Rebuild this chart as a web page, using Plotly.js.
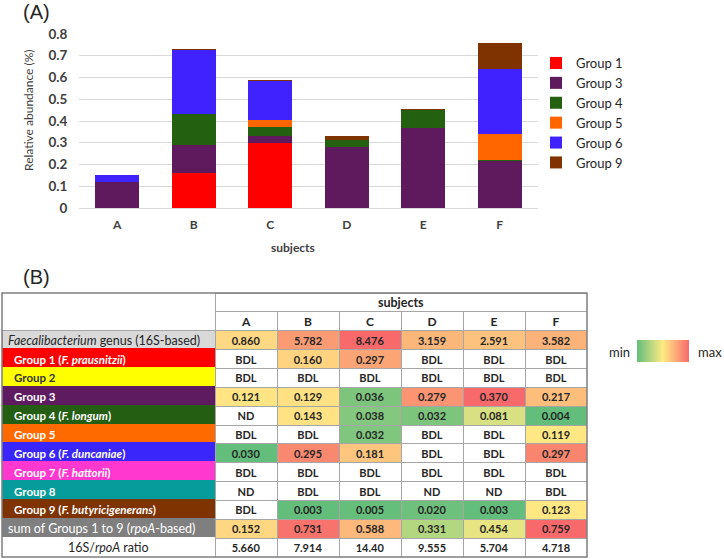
<!DOCTYPE html>
<html>
<head>
<meta charset="utf-8">
<script src="https://cdn.plot.ly/plotly-3.0.1.min.js"></script>
<style>html,body{margin:0;padding:0;background:#fff;}#chart{width:724px;height:559px;}</style>
</head>
<body>
<div id="chart"></div>
<script>
// ---------- DATA ----------
const subjects = ['A', 'B', 'C', 'D', 'E', 'F'];

const rowLabels = [
  '<i>Faecalibacterium</i> genus (16S-based)',
  '<b>Group 1 (<i>F. prausnitzii</i>)</b>',
  '<b>Group 2</b>',
  '<b>Group 3</b>',
  '<b>Group 4 (<i>F. longum</i>)</b>',
  '<b>Group 5</b>',
  '<b>Group 6 (<i>F. duncaniae</i>)</b>',
  '<b>Group 7 (<i>F. hattorii</i>)</b>',
  '<b>Group 8</b>',
  '<b>Group 9 (<i>F. butyricigenerans</i>)</b>',
  'sum of Groups 1 to 9 (<i>rpoA</i>-based)',
  '16S/<i>rpoA</i> ratio'
];

const faecalibacterium = ['0.860', '5.782', '8.476', '3.159', '2.591', '3.582'];
const group1 = ['BDL', '0.160', '0.297', 'BDL', 'BDL', 'BDL'];
const group2 = ['BDL', 'BDL', 'BDL', 'BDL', 'BDL', 'BDL'];
const group3 = ['0.121', '0.129', '0.036', '0.279', '0.370', '0.217'];
const group4 = ['ND', '0.143', '0.038', '0.032', '0.081', '0.004'];
const group5 = ['BDL', 'BDL', '0.032', 'BDL', 'BDL', '0.119'];
const group6 = ['0.030', '0.295', '0.181', 'BDL', 'BDL', '0.297'];
const group7 = ['BDL', 'BDL', 'BDL', 'BDL', 'BDL', 'BDL'];
const group8 = ['ND', 'BDL', 'BDL', 'ND', 'ND', 'BDL'];
const group9 = ['BDL', '0.003', '0.005', '0.020', '0.003', '0.123'];
const groupSum = ['0.152', '0.731', '0.588', '0.331', '0.454', '0.759'];
const ratio16SrpoA = ['5.660', '7.914', '14.40', '9.555', '5.704', '4.718'];

const barGroupNames = ['Group 1', 'Group 3', 'Group 4', 'Group 5', 'Group 6', 'Group 9'];
const barGroupValues = [group1, group3, group4, group5, group6, group9];

// ---------- STYLES ----------
const barColors = ['#FF0000', '#5E1A5C', '#23600F', '#FF6600', '#3F22FF', '#7F3300'];
const labelFills = ['#D9D9D9', '#FF0000', '#FFFF00', '#5F1B5F', '#235E12', '#FF6A00',
                    '#3A26FA', '#FF38CF', '#079C9C', '#7F3300', '#7F7F7F', '#FFFFFF'];
const labelFontColors = ['#262626', '#FFFFFF', '#333333', '#FFFFFF', '#FFFFFF', '#FFFFFF',
                         '#FFFFFF', '#FFFFFF', '#FFFFFF', '#FFFFFF', '#FFFFFF', '#262626'];
const labelFontSizes = [12.5, 11.5, 11.5, 11.5, 11.5, 11.5, 11.5, 11.5, 11.5, 11.5, 12.5, 12.5];
const labelIndent = [4, 10, 10, 10, 10, 10, 10, 10, 10, 10, 4, null]; // null = centred
const W0 = '#FFFFFF';
const cellFills = [
  ['#FFD883', '#FA9B73', '#F8696B', '#FBB67A', '#FDC27D', '#FBB379'],
  [W0, '#FFD380', '#FBA576', W0, W0, W0],
  [W0, W0, W0, W0, W0, W0],
  ['#FFE484', '#FFE083', '#7DC57D', '#FA9473', '#F8696B', '#FDBE7C'],
  [W0, '#FFE284', '#84C77E', '#7DC57D', '#D7E082', '#63BE7B'],
  [W0, W0, '#80C67E', W0, W0, '#FFE884'],
  ['#63BE7B', '#F98870', '#FDC57D', W0, W0, '#F8866F'],
  [W0, W0, W0, W0, W0, W0],
  [W0, W0, W0, W0, W0, W0],
  [W0, '#63BE7B', '#65BF7B', '#6EC17C', '#63BE7B', '#FFE784'],
  ['#FFD681', '#F8736C', '#FDB87B', '#B3D680', '#E6E483', '#F8696B'],
  [W0, W0, W0, W0, W0, W0]
];
const excelScale = [[0, '#63BE7B'], [0.5, '#FFEB84'], [1, '#F8696B']];
const labelColWidth = 213, subjectColWidth = 62;

// ---------- BUILD ----------
const W = 724, H = 559;
const px = x => x / W;
const py = y => 1 - y / H;
const num = s => (isNaN(parseFloat(s)) ? null : parseFloat(s));
const FONT = 'Lato, "Open Sans", sans-serif';
const GRID = '#A6A6A6';
const TXT = '#262626';

const tableRows = [faecalibacterium, group1, group2, group3, group4, group5, group6,
                   group7, group8, group9, groupSum, ratio16SrpoA];
const rowKeys = ['hdr-span', 'hdr-subject'].concat(tableRows.map((r, i) => 'row' + i));
const tableWidth = labelColWidth + subjectColWidth * subjects.length;

// (A) stacked bars
const traces = barGroupNames.map((name, i) => ({
  type: 'bar',
  name: name,
  x: subjects,
  y: barGroupValues[i].map(num),
  marker: { color: barColors[i], line: { width: 0 } },
  hoverinfo: 'skip'
}));

// colour-scale key (min -> max)
traces.push({
  type: 'scatter', mode: 'markers', x: [null], y: [null], showlegend: false, hoverinfo: 'skip',
  marker: {
    color: [0], cmin: 0, cmax: 1, colorscale: excelScale, showscale: true,
    colorbar: {
      orientation: 'h', lenmode: 'pixels', len: 52, thicknessmode: 'pixels', thickness: 22,
      x: px(637), xanchor: 'left', y: py(362), yanchor: 'bottom', xpad: 0, ypad: 0,
      outlinewidth: 0, showticklabels: false, ticks: ''
    }
  }
});

// (B) table: each column is a horizontal stacked bar trace, one segment per row
const cellCommon = {
  type: 'bar', orientation: 'h', xaxis: 'x2', yaxis: 'y2', y: rowKeys, width: 1,
  showlegend: false, hoverinfo: 'skip',
  textposition: 'inside', insidetextanchor: 'middle', textangle: 0, constraintext: 'none',
  cliponaxis: false
};
// label column (fills only, labels drawn as annotations)
traces.push(Object.assign({}, cellCommon, {
  x: rowKeys.map(() => labelColWidth),
  marker: {
    color: [W0, W0].concat(labelFills),
    line: {
      color: [W0, W0, GRID].concat(labelFills.slice(1)),
      width: [0, 0, 1].concat(labelFills.slice(1).map(() => 3))
    }
  }
}));
subjects.forEach((s, j) => {
  traces.push(Object.assign({}, cellCommon, {
    x: [j === 0 ? subjectColWidth * subjects.length : null, subjectColWidth]
        .concat(tableRows.map(() => subjectColWidth)),
    text: [j === 0 ? 'subjects' : '', s].concat(tableRows.map(r => r[j])),
    textfont: {
      family: FONT, color: TXT, weight: 'bold',
      size: [12.5, 12].concat(tableRows.map(() => 11))
    },
    marker: {
      color: [W0, W0].concat(cellFills.map(r => r[j])),
      line: { color: GRID, width: 1 }
    }
  }));
});

const labelAnnotations = rowLabels.map((t, i) => ({
  text: t, xref: 'x2', yref: 'y2', y: rowKeys[i + 2],
  x: labelIndent[i] === null ? labelColWidth / 2 : labelIndent[i],
  xanchor: labelIndent[i] === null ? 'center' : 'left', yanchor: 'middle',
  showarrow: false, font: { family: FONT, size: labelFontSizes[i], color: labelFontColors[i] }
}));

const layout = {
  width: W, height: H,
  margin: { l: 0, r: 0, t: 0, b: 0 },
  paper_bgcolor: '#FFFFFF', plot_bgcolor: '#FFFFFF',
  font: { family: FONT, color: '#404040' },
  barmode: 'stack',
  bargap: 0.425,
  showlegend: true,
  legend: {
    x: px(536), xanchor: 'left', y: py(48), yanchor: 'top',
    traceorder: 'normal', tracegroupgap: 0,
    font: { family: FONT, size: 13, color: TXT },
    bgcolor: 'rgba(0,0,0,0)'
  },
  xaxis: {
    domain: [px(79), px(538)],
    type: 'category',
    showgrid: false, showline: false, zeroline: false,
    ticks: 'outside', ticklen: 6, tickcolor: 'rgba(0,0,0,0)',
    tickfont: { family: FONT, size: 12, color: '#404040', weight: 'bold' },
    fixedrange: true
  },
  yaxis: {
    domain: [py(208), py(34)],
    range: [0, 0.8], dtick: 0.1, tick0: 0,
    showgrid: true, gridcolor: '#D9D9D9', gridwidth: 1,
    zeroline: true, zerolinecolor: '#D9D9D9', zerolinewidth: 1,
    showline: false,
    ticks: 'outside', ticklen: 8, tickcolor: 'rgba(0,0,0,0)',
    tickformat: '.1~f',
    tickfont: { family: FONT, size: 13.5, color: '#404040', weight: 'bold' },
    fixedrange: true
  },
  xaxis2: {
    domain: [px(2), px(587)], anchor: 'y2', range: [0, tableWidth],
    visible: false, fixedrange: true
  },
  yaxis2: {
    domain: [py(557), py(293)], anchor: 'x2', type: 'category', categoryorder: 'array',
    categoryarray: rowKeys, range: [rowKeys.length - 0.5, -0.5],
    visible: false, fixedrange: true
  },
  annotations: [
    { text: '(A)', xref: 'paper', yref: 'paper', x: px(36), y: py(12), xanchor: 'center', yanchor: 'middle',
      showarrow: false, font: { family: '"Liberation Sans", Arial, sans-serif', size: 20, color: TXT } },
    { text: '(B)', xref: 'paper', yref: 'paper', x: px(36), y: py(277), xanchor: 'center', yanchor: 'middle',
      showarrow: false, font: { family: '"Liberation Sans", Arial, sans-serif', size: 20, color: TXT } },
    { text: 'Relative abundance (%)', xref: 'paper', yref: 'paper', x: px(29), y: py(110), textangle: -90,
      xanchor: 'center', yanchor: 'middle', showarrow: false,
      font: { family: FONT, size: 12, color: '#404040' } },
    { text: '<b>subjects</b>', xref: 'paper', yref: 'paper', x: px(293), y: py(247), xanchor: 'center', yanchor: 'middle',
      showarrow: false, font: { family: FONT, size: 12, color: '#404040' } },
    { text: 'min', xref: 'paper', yref: 'paper', x: px(619), y: py(352), xanchor: 'center', yanchor: 'middle',
      showarrow: false, font: { family: FONT, size: 13, color: TXT } },
    { text: 'max', xref: 'paper', yref: 'paper', x: px(710), y: py(352), xanchor: 'center', yanchor: 'middle',
      showarrow: false, font: { family: FONT, size: 13, color: TXT } }
  ].concat(labelAnnotations),
  shapes: [
    { type: 'rect', xref: 'x2 domain', yref: 'y2 domain', x0: 0, x1: 1, y0: 0, y1: 1,
      line: { color: '#7F7F7F', width: 1.5 }, fillcolor: 'rgba(0,0,0,0)', layer: 'above' }
  ]
};

Plotly.newPlot('chart', traces, layout, { displayModeBar: false, staticPlot: true });
</script>
</body>
</html>
